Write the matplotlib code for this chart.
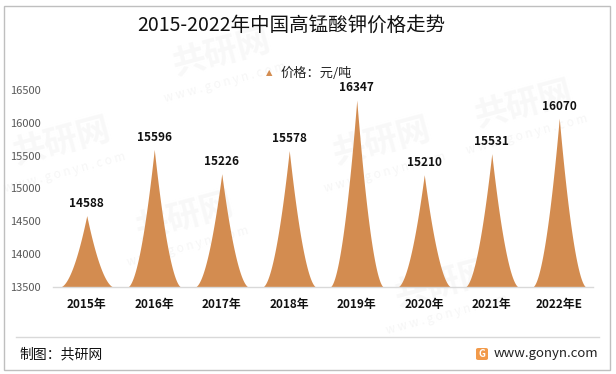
import numpy as np
import matplotlib.pyplot as plt
from matplotlib.patches import Rectangle, FancyBboxPatch
from matplotlib.lines import Line2D

plt.rcParams['font.family'] = ['Noto Sans CJK SC', 'DejaVu Sans']

years = ['2015年', '2016年', '2017年', '2018年', '2019年', '2020年', '2021年', '2022年E']
prices = [14588, 15596, 15226, 15578, 16347, 15210, 15531, 16070]
y_ticks = [13500, 14000, 14500, 15000, 15500, 16000, 16500]

spike_color = '#D38C50'
base = 13500

fig = plt.figure(figsize=(6.16, 3.74), dpi=100)

# very faint watermarks on a background layer
bg = fig.add_axes([0, 0, 1, 1], zorder=-10)
bg.set_axis_off()
wm_spots = [(0.36, 0.86), (0.30, 0.42), (0.62, 0.62), (0.85, 0.72), (0.72, 0.24),
            (0.10, 0.62)]
for wx, wy in wm_spots:
    bg.text(wx, wy, '共研网', fontsize=24, fontweight='bold', color='#F8F8F8',
            rotation=15, ha='center', va='center', transform=bg.transAxes)
    bg.text(wx + 0.005, wy - 0.08, 'w w w . g o n y n . c o m', fontsize=8.5,
            color='#F6F6F6', rotation=15, ha='center', va='center', transform=bg.transAxes)

ax = fig.add_axes([53 / 616, 1 - 287 / 374, 540 / 616, 197 / 374])
ax.patch.set_alpha(0)

t = np.linspace(-1, 1, 201)
half = 0.40
for i, v in enumerate(prices):
    xs = i + t * half
    ys = base + (v - base) * (1 - np.abs(t)) ** 1.8
    ax.fill_between(xs, base, ys, color=spike_color, linewidth=0, zorder=2)
    ax.annotate(str(v), (i, v), xytext=(0, 4), textcoords='offset points',
                ha='center', va='bottom', fontsize=8.5, fontweight='bold', color='#111111')

ax.set_xlim(-0.5, len(years) - 0.5)
ax.set_ylim(base, 16500)
ax.set_yticks(y_ticks)
ax.set_yticklabels([str(v) for v in y_ticks], fontsize=8, color='#595959')
ax.set_xticks(range(len(years)))
ax.set_xticklabels(years, fontsize=8.5, fontweight='bold', color='#111111')
ax.tick_params(axis='y', length=0, pad=9)
ax.tick_params(axis='x', length=0, pad=8)
for side in ['left', 'right', 'top']:
    ax.spines[side].set_visible(False)
ax.spines['bottom'].set_color('#D9D9D9')
ax.spines['bottom'].set_linewidth(1)

# title and legend
fig.text(291 / 616, 1 - 25 / 374, '2015-2022年中国高锰酸钾价格走势', fontsize=14,
         ha='center', va='center', color='#111111')
fig.text(269 / 616, 1 - 73 / 374, '▲', fontsize=6, color=spike_color,
         ha='center', va='center', family=['DejaVu Sans'])
fig.text(281 / 616, 1 - 73 / 374, '价格：元/吨', fontsize=9.5, ha='left', va='center',
         color='#222222')

# footer
fig.add_artist(Line2D([16 / 616, 599 / 616], [1 - 337 / 374] * 2, color='#D9D9D9', lw=1))
fig.text(19 / 616, 1 - 354 / 374, '制图：共研网', fontsize=10, ha='left', va='center',
         color='#111111')
fig.text(494 / 616, 1 - 354 / 374, 'www.gonyn.com', fontsize=9.5, ha='left', va='center',
         color='#222222')
fig.add_artist(FancyBboxPatch((476 / 616, 1 - 360 / 374), 12 / 616, 12 / 374,
                              boxstyle='round,pad=0,rounding_size=0.004',
                              transform=fig.transFigure, facecolor='#F29A4A',
                              edgecolor='none'))
fig.text(482 / 616, 1 - 354 / 374, 'G', fontsize=7, fontweight='bold', color='white',
         ha='center', va='center')

# outer frame
fig.add_artist(Rectangle((4 / 616, 1 - 370 / 374), 606 / 616, 364 / 374,
                         transform=fig.transFigure, fill=False, edgecolor='#BFBFBF', lw=1))

fig.savefig('out.png', dpi=100)
